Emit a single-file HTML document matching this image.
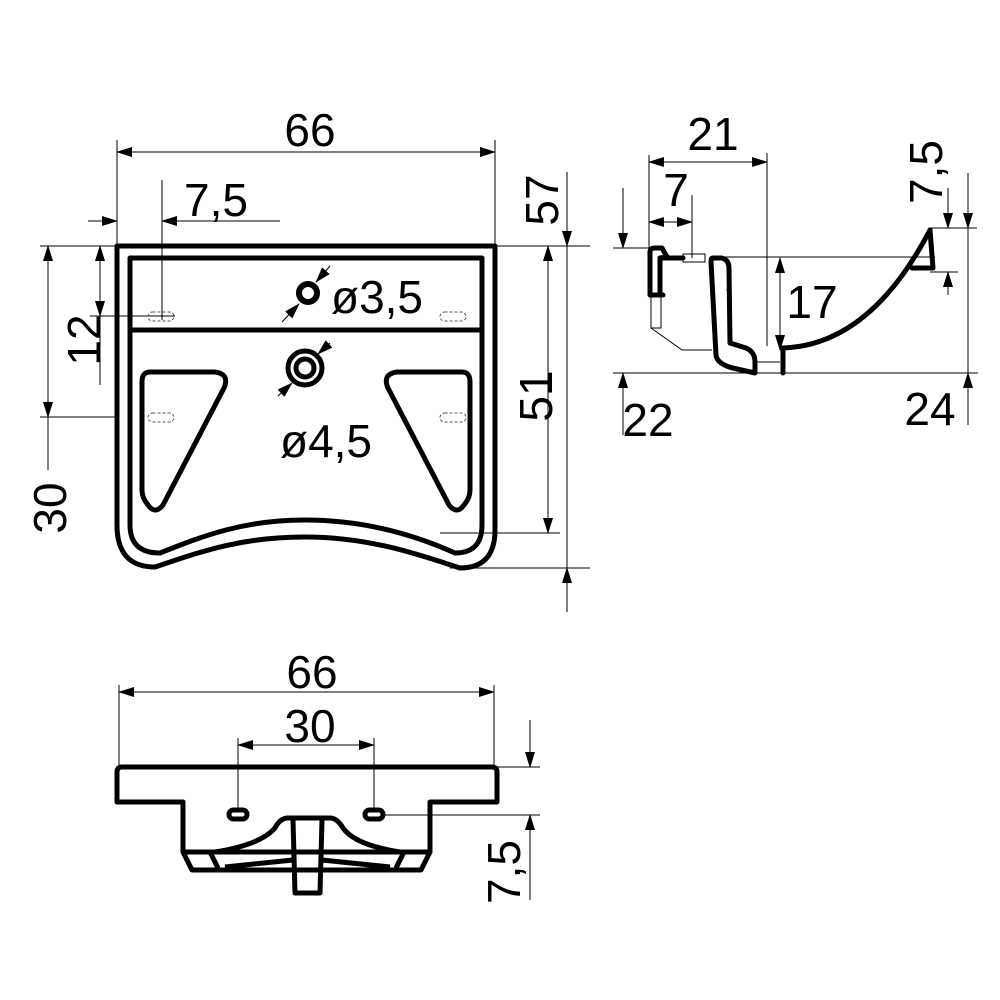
<!DOCTYPE html>
<html><head><meta charset="utf-8"><style>
html,body{margin:0;padding:0;background:#fff}
svg{display:block}
text{font-family:"Liberation Sans",sans-serif;font-size:46px;fill:#000}
</style></head><body>
<svg width="1000" height="1000" viewBox="0 0 1000 1000" xmlns="http://www.w3.org/2000/svg">
<defs>
<marker id="a" markerWidth="16" markerHeight="10" refX="15" refY="5" orient="auto" markerUnits="userSpaceOnUse"><path d="M0,0 L16,5 L0,10 Z" fill="#000"/></marker>
<marker id="b" markerWidth="16" markerHeight="10" refX="1" refY="5" orient="auto" markerUnits="userSpaceOnUse"><path d="M16,0 L0,5 L16,10 Z" fill="#000"/></marker>
</defs>
<g stroke="#000" stroke-width="1" fill="none">
<line x1="117" y1="152" x2="495" y2="152" marker-start="url(#b)" marker-end="url(#a)"/>
<line x1="117" y1="140" x2="117" y2="246"/><line x1="495" y1="140" x2="495" y2="246"/>
<line x1="88" y1="221" x2="117" y2="221" marker-end="url(#a)"/>
<line x1="280" y1="221" x2="162" y2="221" marker-end="url(#a)"/>
<line x1="162" y1="180" x2="162" y2="320"/>
<line x1="100" y1="246" x2="100" y2="316" marker-start="url(#b)" marker-end="url(#a)"/>
<line x1="100" y1="316" x2="100" y2="385"/>
<line x1="40" y1="246" x2="117" y2="246"/><line x1="90" y1="316" x2="175" y2="316"/>
<line x1="48" y1="246" x2="48" y2="417" marker-start="url(#b)" marker-end="url(#a)"/>
<line x1="48" y1="417" x2="48" y2="470"/>
<line x1="40" y1="417" x2="117" y2="417"/>
<line x1="548" y1="246" x2="548" y2="533" marker-start="url(#b)" marker-end="url(#a)"/>
<line x1="440" y1="533" x2="560" y2="533"/>
<line x1="567" y1="172" x2="567" y2="246" marker-end="url(#a)"/>
<line x1="567" y1="612" x2="567" y2="568" marker-end="url(#a)"/>
<line x1="567" y1="246" x2="567" y2="568"/>
<line x1="495" y1="246" x2="590" y2="246"/><line x1="450" y1="568" x2="590" y2="568"/>
<line x1="330" y1="266" x2="316" y2="282" marker-end="url(#a)"/>
<line x1="282" y1="322" x2="299" y2="304" marker-end="url(#a)"/>
<line x1="330" y1="343" x2="318" y2="354" marker-end="url(#a)"/>
<line x1="278" y1="396" x2="292" y2="383" marker-end="url(#a)"/>
</g>
<g stroke="#000" fill="none" stroke-linejoin="round">
<path d="M117,246 L495,246 L495,530 Q495,568 460,568 C420,555 370,537 305,537 C240,537 200,552 155,567 Q117,567 117,525 Z" stroke-width="5"/>
<path d="M130,258 L482,258 L482,525 Q482,553 455,553 C415,535 365,520 305,520 C245,520 205,535 160,553 Q130,553 130,525 Z" stroke-width="5"/>
<line x1="130" y1="330" x2="482" y2="330" stroke-width="5"/>
<circle cx="308" cy="293" r="9" stroke-width="6"/>
<circle cx="305" cy="368" r="17" stroke-width="5"/>
<circle cx="305" cy="368" r="9" stroke-width="5"/>
<path d="M150,372 L215,372 Q230,374 224,388 L163,505 Q155,515 148,505 Q142,498 142,490 L142,382 Q142,372 150,372 Z" stroke-width="5"/>
<path d="M462,372 L397,372 Q382,374 388,388 L449,505 Q457,515 464,505 Q470,498 470,490 L470,382 Q470,372 462,372 Z" stroke-width="5"/>
</g>
<g stroke="#555" stroke-width="1" stroke-dasharray="3,2" fill="none">
<rect x="148" y="312" width="26" height="9" rx="4.5"/><rect x="440" y="312" width="26" height="9" rx="4.5"/>
<rect x="148" y="413" width="26" height="9" rx="4.5"/><rect x="440" y="413" width="26" height="9" rx="4.5"/>
</g>
<text x="310" y="146" text-anchor="middle">66</text>
<text x="216" y="216" text-anchor="middle">7,5</text>
<text x="377" y="313" text-anchor="middle">ø3,5</text>
<text x="326" y="457" text-anchor="middle">ø4,5</text>
<text transform="translate(100,340) rotate(-90)" text-anchor="middle">12</text>
<text transform="translate(66,508) rotate(-90)" text-anchor="middle">30</text>
<text transform="translate(552,396) rotate(-90)" text-anchor="middle">51</text>
<text transform="translate(558,200) rotate(-90)" text-anchor="middle">57</text>

<g stroke="#000" stroke-width="1" fill="none">
<line x1="649" y1="162" x2="767" y2="162" marker-start="url(#b)" marker-end="url(#a)"/>
<line x1="649" y1="155" x2="649" y2="248"/><line x1="767" y1="153" x2="767" y2="346"/>
<line x1="649" y1="222" x2="692" y2="222" marker-start="url(#b)" marker-end="url(#a)"/>
<line x1="692" y1="195" x2="692" y2="258"/>
<line x1="623" y1="188" x2="623" y2="248" marker-end="url(#a)"/>
<line x1="623" y1="435" x2="623" y2="373" marker-end="url(#a)"/>
<line x1="613" y1="248" x2="650" y2="248"/><line x1="613" y1="373" x2="978" y2="373"/>
<line x1="780" y1="258" x2="780" y2="350" marker-start="url(#b)" marker-end="url(#a)"/>
<line x1="722" y1="257" x2="935" y2="257"/>
<line x1="948" y1="188" x2="948" y2="228" marker-end="url(#a)"/>
<line x1="948" y1="295" x2="948" y2="272" marker-end="url(#a)"/>
<line x1="930" y1="228" x2="977" y2="228"/><line x1="930" y1="272" x2="958" y2="272"/>
<line x1="968" y1="173" x2="968" y2="228" marker-end="url(#a)"/>
<line x1="968" y1="425" x2="968" y2="373" marker-end="url(#a)"/>
<line x1="968" y1="228" x2="968" y2="373"/>
<path d="M651,296 L651,328 L661,328 L661,296 M651,328 L682,350 L712,350 M683,254 L705,254 L705,262 L683,262 Z M726,290 L729,290 L729,265"/>
<line x1="755" y1="362" x2="780" y2="362"/>
</g>
<g stroke="#000" fill="none" stroke-linejoin="round" stroke-linecap="round">
<path d="M663,295 L650,295 L650,252 Q650,248 655,248 L662,248 L667,257 L660,258 L660,293" stroke-width="5"/>
<line x1="663" y1="258" x2="683" y2="258" stroke-width="5"/>
<path d="M713,258 L722,258 Q729,260 729,268 L730,343 L746,348 Q755,352 755,362 L755,373 L737,369 Q717,365 716,355 L711,262 Q711,258 713,258 Z" stroke-width="5"/>
<path d="M783,348 Q870,345 930,230" stroke-width="5"/>
<path d="M930,230 L933,268 L912,268" stroke-width="5"/>
<line x1="783" y1="348" x2="783" y2="373" stroke-width="5"/>
</g>
<text x="713" y="150" text-anchor="middle">21</text>
<text x="676" y="206" text-anchor="middle">7</text>
<text x="812" y="318" text-anchor="middle">17</text>
<text x="648" y="436" text-anchor="middle">22</text>
<text x="930" y="425" text-anchor="middle">24</text>
<text transform="translate(942,172) rotate(-90)" text-anchor="middle">7,5</text>

<g stroke="#000" stroke-width="1" fill="none">
<line x1="119" y1="692" x2="494" y2="692" marker-start="url(#b)" marker-end="url(#a)"/>
<line x1="119" y1="685" x2="119" y2="767"/><line x1="494" y1="685" x2="494" y2="767"/>
<line x1="238" y1="745" x2="374" y2="745" marker-start="url(#b)" marker-end="url(#a)"/>
<line x1="238" y1="738" x2="238" y2="808"/><line x1="374" y1="738" x2="374" y2="808"/>
<line x1="530" y1="720" x2="530" y2="767" marker-end="url(#a)"/>
<line x1="530" y1="900" x2="530" y2="815" marker-end="url(#a)"/>
<line x1="497" y1="767" x2="540" y2="767"/><line x1="382" y1="815" x2="540" y2="815"/>
</g>
<g stroke="#000" stroke-width="5" fill="none" stroke-linejoin="round">
<path d="M122,767 L492,767 Q497,767 497,772 L497,802 L430,802 L430,852 L421,870 L192,870 L183,852 L183,802 L117,802 L117,772 Q117,767 122,767 Z"/>
<rect x="229" y="810" width="18" height="9" rx="4.5"/>
<rect x="365" y="810" width="18" height="9" rx="4.5"/>
<path d="M215,852 Q260,845 275,828 Q280,818 288,818 L330,818 Q337,818 343,828 Q355,845 400,852"/>
<path d="M183,852 L430,852"/>
<path d="M210,852 L218,868 M404,852 L396,868"/>
<path d="M225,867 L293,860 M322,860 L390,867"/>
<path d="M293,820 L295,893 L320,893 L322,820"/>
</g>
<text x="312" y="688" text-anchor="middle">66</text>
<text x="310" y="742" text-anchor="middle">30</text>
<text transform="translate(520,872) rotate(-90)" text-anchor="middle">7,5</text>
</svg>
</body></html>
